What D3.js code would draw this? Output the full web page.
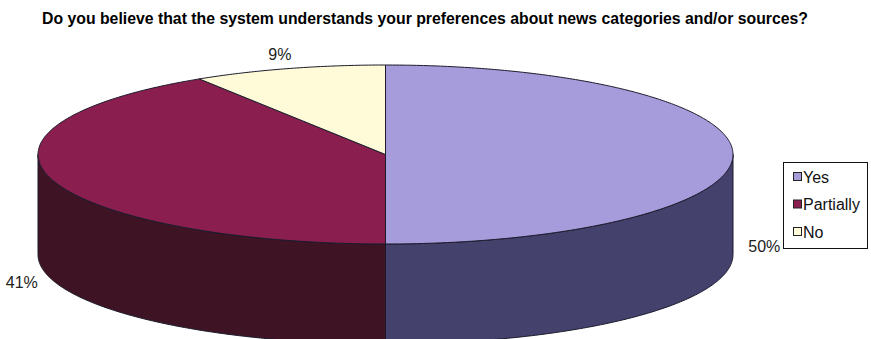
<!DOCTYPE html>
<html><head><meta charset="utf-8">
<script src="https://cdn.jsdelivr.net/npm/d3@7/dist/d3.min.js"></script>
<style>body{margin:0;background:#fff}svg{display:block}</style>
</head><body>
<svg id="c" width="871" height="339"></svg>
<script>
const title = "Do you believe that the system understands your preferences about news categories and/or sources?";
const categories = ["Yes", "Partially", "No"];
const values = [50, 41, 9];
const labels = ["50%", "41%", "9%"];
const topColors = ["#a69cdb", "#8a1e4f", "#fffbd8"];
const sideColors = ["#45416d", "#3e1424"];

const svg = d3.select("#c");
const cx = 385.5, cy = 154.5, rx = 347.5, ry = 89.5, depth = 100;

svg.append("text").attr("x", 42).attr("y", 24)
  .attr("font-family", "Liberation Sans Narrow, Liberation Sans, Arial, sans-serif").attr("font-weight", "bold")
  .attr("font-size", 17).attr("textLength", 766).attr("lengthAdjust", "spacingAndGlyphs")
  .attr("fill", "#000").text(title);

const pie = d3.pie().sort(null).value(d => d)(values);
const ang = d3.scaleLinear().domain([0, 2 * Math.PI]).range([0, 2 * Math.PI]);
const pt = (t, dy = 0, k = 1) => [cx + k * rx * Math.sin(ang(t)), cy - k * ry * Math.cos(ang(t)) + dy];

function arcPts(a0, a1, dy) {
  const n = Math.max(2, Math.ceil(Math.abs(a1 - a0) / 0.01));
  return d3.range(n + 1).map(i => pt(a0 + (a1 - a0) * i / n, dy));
}
const line = d3.line();

const g = svg.append("g");
pie.forEach((s, i) => {
  const a0 = Math.max(s.startAngle, Math.PI / 2), a1 = Math.min(s.endAngle, 3 * Math.PI / 2);
  if (a1 <= a0) return;
  const pts = arcPts(a0, a1, 0).concat(arcPts(a1, a0, depth));
  g.append("path").attr("d", line(pts) + "Z").attr("fill", sideColors[i] || topColors[i])
    .attr("stroke", "#1a1a2a").attr("stroke-width", 1).attr("stroke-linejoin", "round");
});
pie.forEach((s, i) => {
  const pts = [[cx, cy]].concat(arcPts(s.startAngle, s.endAngle, 0));
  g.append("path").attr("d", line(pts) + "Z").attr("fill", topColors[i])
    .attr("stroke", "#1a1a2a").attr("stroke-width", 1).attr("stroke-linejoin", "round");
});

pie.forEach((s, i) => {
  const m = (s.startAngle + s.endAngle) / 2;
  const c = Math.cos(m);
  const dy = c < 0.05 ? depth * (0.92 + 0.3 * Math.max(0, -c)) : -6;
  const p = pt(m, dy, 1.09);
  svg.append("text").attr("x", p[0]).attr("y", p[1]).attr("dy", "0.35em")
    .attr("text-anchor", "middle").attr("font-family", "Liberation Sans, Arial, sans-serif")
    .attr("font-size", 16).attr("fill", "#222").text(labels[i]);
});

const lg = svg.append("g");
lg.append("rect").attr("x", 783.5).attr("y", 162.5).attr("width", 84).attr("height", 86)
  .attr("fill", "#fff").attr("stroke", "#111").attr("stroke-width", 1);
const ly = d3.scalePoint().domain(categories).range([177, 232]);
categories.forEach((c, i) => {
  lg.append("rect").attr("x", 793.5).attr("y", ly(c) - 4.5).attr("width", 8).attr("height", 8)
    .attr("fill", topColors[i]).attr("stroke", "#222").attr("stroke-width", 1);
  lg.append("text").attr("x", 803).attr("y", ly(c)).attr("dy", "0.36em")
    .attr("font-family", "Liberation Sans, Arial, sans-serif").attr("font-size", 16)
    .attr("fill", "#111").text(c);
});
</script>
</body></html>
